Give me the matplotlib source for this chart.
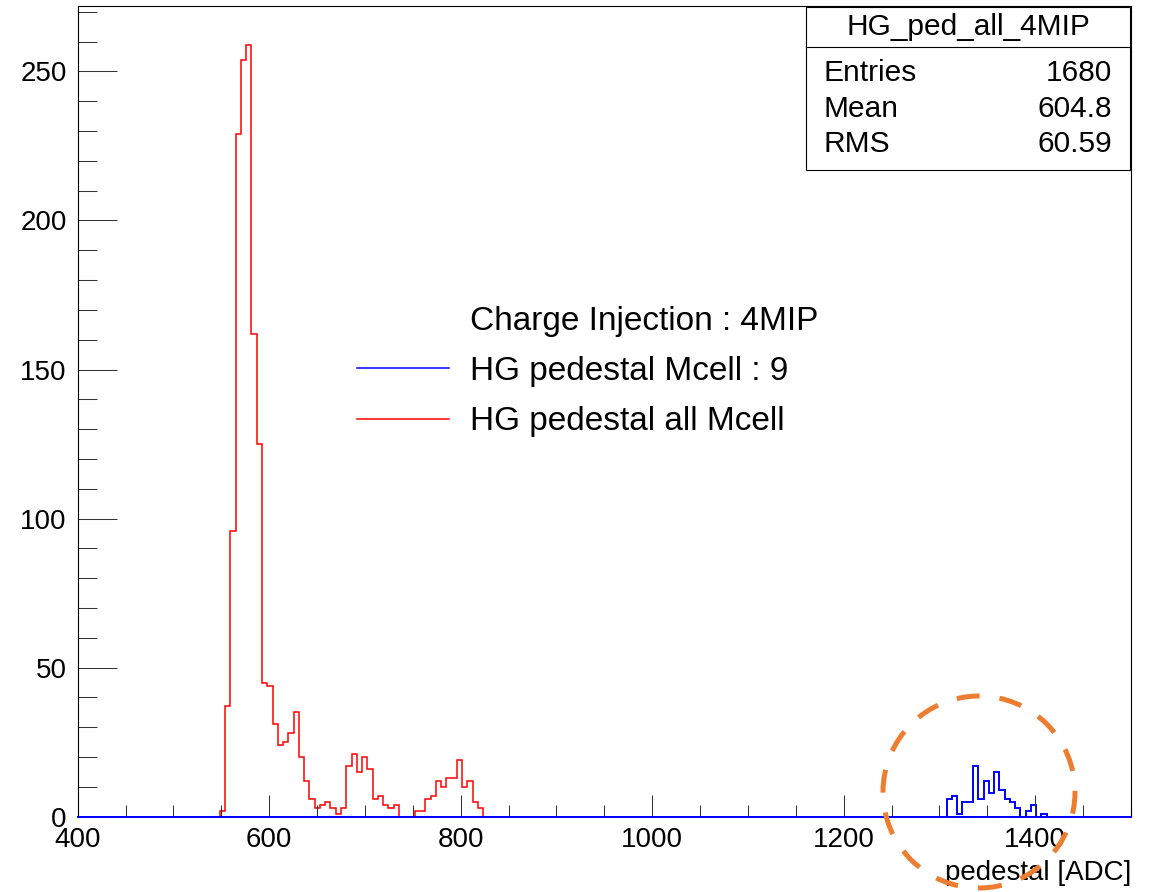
import numpy as np
import matplotlib
matplotlib.use("Agg")
import matplotlib.pyplot as plt
from matplotlib.lines import Line2D
from matplotlib.patches import Rectangle, Ellipse
from matplotlib.ticker import MultipleLocator

# ---------------- data ----------------
x_min, x_max, n_bins = 400.0, 1500.0, 200
red_first_edge = 548.5
red_counts = [2, 37, 96, 229, 254, 259, 162, 125, 45, 44,
              31, 24, 25, 28, 35, 20, 12, 6, 3, 4,
              5, 3, 1, 3, 17, 21, 15, 20, 16, 6,
              7, 4, 3, 4, 0, 0, 0, 2, 2, 6,
              7, 12, 10, 13, 13, 19, 10, 12, 5, 3]
blue_first_edge = 1307.5
blue_counts = [6, 7, 1, 5, 5, 17, 6, 12, 8, 15, 9, 6, 5, 3, 0, 2, 4, 0, 1]

stats_title = "HG_ped_all_4MIP"
stats_labels = ["Entries", "Mean", "RMS"]
stats_values = ["1680", "604.8", "60.59"]
legend_header = "Charge Injection : 4MIP"
legend_labels = ["HG pedestal Mcell : 9", "HG pedestal all Mcell"]
x_label = "pedestal [ADC]"
x_major_ticks = [400, 600, 800, 1000, 1200, 1400]
y_major_ticks = [0, 50, 100, 150, 200, 250]

# ---------------- build histograms ----------------
edges = np.linspace(x_min, x_max, n_bins + 1)
bw = (x_max - x_min) / n_bins


def full_hist(first_edge, counts):
    arr = np.zeros(n_bins)
    i0 = int(round((first_edge - x_min) / bw))
    arr[i0:i0 + len(counts)] = counts
    return arr


red = full_hist(red_first_edge, red_counts)
blue = full_hist(blue_first_edge, blue_counts)

plt.rcParams['font.family'] = ['Liberation Sans', 'DejaVu Sans']

W, H = 1150, 892
fig = plt.figure(figsize=(W / 100, H / 100), dpi=100)


def fx(x):
    return x / W


def fy(y):
    return 1 - y / H


ax_l, ax_r, ax_t, ax_b = 77.7, 1131.0, 6.0, 816.7
ax = fig.add_axes([fx(ax_l), fy(ax_b), fx(ax_r - ax_l), (ax_b - ax_t) / H])

ax.stairs(red, edges, color='#ff0000', lw=1.1, baseline=0)
ax.stairs(blue, edges, color='#0000ff', lw=1.4, baseline=0)

ax.set_xlim(x_min, x_max)
ax.set_ylim(0, 1.05 * max(red))

ax.set_xticks(x_major_ticks)
ax.set_yticks(y_major_ticks)
ax.xaxis.set_minor_locator(MultipleLocator(50))
ax.yaxis.set_minor_locator(MultipleLocator(10))
ax.tick_params(axis='y', which='major', direction='in', length=28, width=0.75,
               pad=7.9, labelsize=20, color='#333333')
ax.tick_params(axis='y', which='minor', direction='in', length=13.7, width=0.75,
               color='#333333')
ax.tick_params(axis='x', which='major', direction='in', length=15.6, width=0.75,
               pad=7.2, labelsize=20, color='#333333')
ax.tick_params(axis='x', which='minor', direction='in', length=8.6, width=0.75,
               color='#333333')
for s in ax.spines.values():
    s.set_linewidth(0.8)
    s.set_color('black')
# the blue histogram's zero line runs along the whole bottom of the frame
ax.spines['bottom'].set_color('#0000ff')
ax.spines['bottom'].set_linewidth(1.4)

ax.set_xlabel(x_label, loc='right', fontsize=20, labelpad=5)

# ---------------- legend ----------------
handles = [Line2D([], [], linestyle='none'),
           Line2D([], [], color='#0000ff', lw=1.1),
           Line2D([], [], color='#ff0000', lw=1.1)]
labels = [legend_header] + legend_labels
ax.legend(handles, labels, loc='upper left',
          bbox_to_anchor=(fx(356.7), fy(305.5)), bbox_transform=fig.transFigure,
          frameon=False, fontsize=24, borderpad=0, borderaxespad=0,
          handlelength=2.78, handletextpad=0.62, labelspacing=0.58)

# ---------------- stats box ----------------
bx0, by0, bx1, by1, bdiv = 806, 7, 1130, 170, 47
fig.add_artist(Rectangle((fx(bx0), fy(by1)), fx(bx1 - bx0), (by1 - by0) / H,
                         transform=fig.transFigure, facecolor='white',
                         edgecolor='black', lw=0.8, zorder=5))
fig.add_artist(Line2D([fx(bx0), fx(bx1)], [fy(bdiv), fy(bdiv)],
                      transform=fig.transFigure, color='black', lw=0.8, zorder=6))
fig.text(fx((bx0 + bx1) / 2), fy(27), stats_title, ha='center', va='center',
         fontsize=21.5, zorder=7)
row_y = [73, 109, 144]
for lab, val, yy in zip(stats_labels, stats_values, row_y):
    fig.text(fx(823), fy(yy), lab, ha='left', va='center', fontsize=21.5, zorder=7)
    fig.text(fx(1112), fy(yy), val, ha='right', va='center', fontsize=21.5, zorder=7)

# ---------------- highlight circle ----------------
fig.add_artist(Ellipse((fx(979), fy(792)), 192 / W, 192 / H,
                       transform=fig.transFigure, fill=False,
                       edgecolor='#ED7D31', lw=3.6,
                       linestyle=(0, (4.6, 4.0)), zorder=10))

fig.savefig('out.png', dpi=100)
